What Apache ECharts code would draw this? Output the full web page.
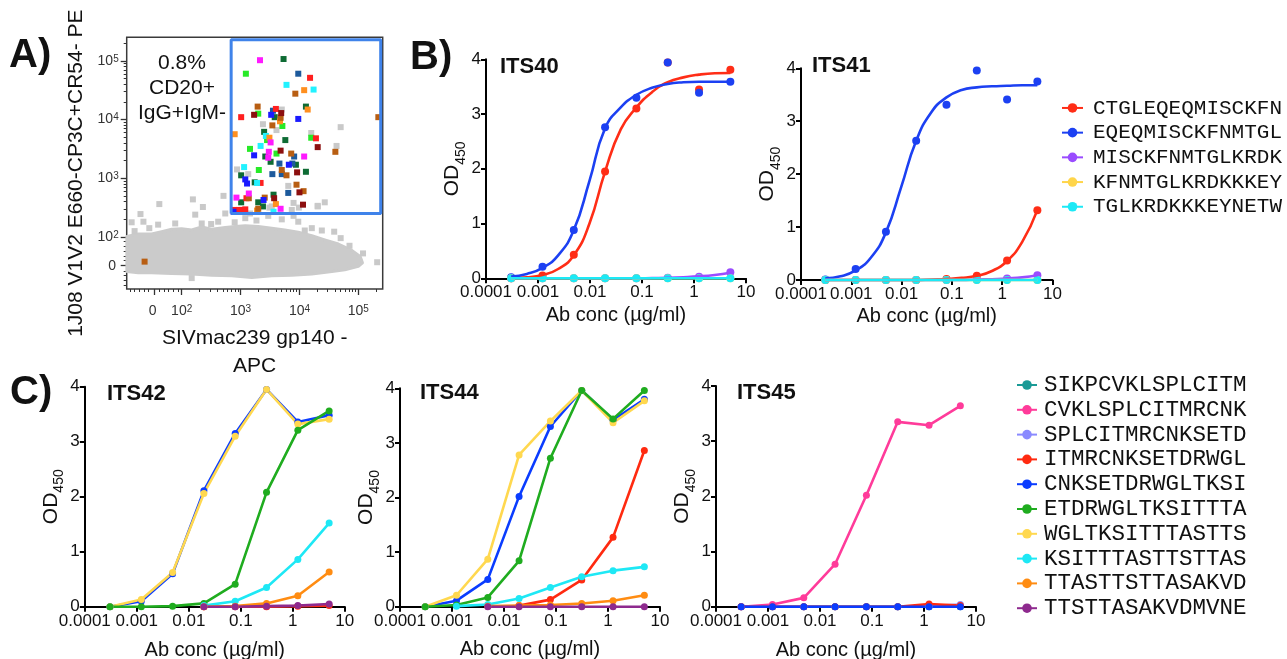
<!DOCTYPE html>
<html><head><meta charset="utf-8">
<script src="https://cdn.jsdelivr.net/npm/echarts@6/dist/echarts.min.js"></script>
<style>html,body{margin:0;padding:0;background:#fff}#c{width:1287px;height:659px}</style>
</head><body><div id="c"></div>
<script>
const SANS = '"Liberation Sans", Arial, Helvetica, sans-serif';
const MONO = '"Liberation Mono", "Courier New", monospace';
const INK = '#111';

// ===================== Panel A: flow plot (values in logicle decades) =====================
const flowXTickVals = [1.53, 2, 3, 4, 5];
const flowYTickVals = [1.51, 2, 3, 4, 5];
const flowTickLabels = ['{n|0}{s| }', '{n|10}{s|2}', '{n|10}{s|3}', '{n|10}{s|4}', '{n|10}{s|5}'];
const flowXMinor = [1.12, 1.2, 1.28, 1.36, 1.44, 1.62, 1.7, 1.78, 1.86, 1.94,
  2.301, 2.477, 2.602, 2.699, 2.778, 2.845, 2.903, 2.954,
  3.301, 3.477, 3.602, 3.699, 3.778, 3.845, 3.903, 3.954,
  4.301, 4.477, 4.602, 4.699, 4.778, 4.845, 4.903, 4.954, 5.301];
const flowYMinor = [1.18, 1.26, 1.34, 1.42, 1.6, 1.68, 1.76, 1.84, 1.92,
  2.301, 2.477, 2.602, 2.699, 2.778, 2.845, 2.903, 2.954,
  3.301, 3.477, 3.602, 3.699, 3.778, 3.845, 3.903, 3.954,
  4.301, 4.477, 4.602, 4.699, 4.778, 4.845, 4.903, 4.954, 5.301];
// outline of the dense grey population
const cloudX = [1.07, 1.26, 1.49, 1.66, 1.83, 2.00, 2.17, 2.34, 2.51, 2.74, 2.91, 3.08, 3.30, 3.53, 3.75, 3.98, 4.21, 4.43, 4.66, 4.89, 5.03, 5.07,
  5.00, 4.77, 4.55, 4.21, 3.87, 3.53, 3.19, 2.85, 2.51, 2.17, 1.83, 1.49, 1.26, 1.07];
const cloudY = [2.01, 2.05, 2.05, 2.09, 2.13, 2.14, 2.12, 2.17, 2.13, 2.16, 2.18, 2.19, 2.18, 2.15, 2.12, 2.08, 2.02, 1.95, 1.88, 1.77, 1.67, 1.56,
  1.50, 1.44, 1.41, 1.37, 1.35, 1.34, 1.31, 1.34, 1.35, 1.37, 1.38, 1.39, 1.39, 1.41];
const greyEvents = [[3.70,4.17],[3.38,3.92],[3.61,3.82],[4.20,3.77],[4.70,3.87],[4.63,3.55],[2.94,3.15],[3.81,2.87],[3.90,2.58],[4.31,2.52],[4.43,2.59],[3.99,2.50],[3.49,2.50],[3.13,3.07],
  [1.62,2.56],[2.19,2.64],[2.36,2.51],[2.71,2.70],[1.30,2.39],[1.15,2.25],[1.35,2.26],[2.23,2.38],[4.31,2.53],[4.09,2.11],[4.38,2.11],[4.59,2.09],[5.08,1.72],[5.32,1.57],[2.17,1.30],
  [3.08,2.32],[3.27,2.28],[3.47,2.36],[3.70,2.30],[3.90,2.36],[3.98,2.26],[1.89,2.23],[1.60,2.21],[2.62,2.26],[2.34,2.23],[4.21,2.15],[2.74,2.40],[3.53,2.52],[3.87,2.46],[3.16,2.40],
  [2.90,2.25],[2.50,2.22],[4.70,1.98],[4.85,1.85],[1.20,2.10],[1.45,2.15]];
const gateX = [2.84, 5.38];
const gateY = [2.40, 5.36];
const evMagenta = [[3.33,5.01],[3.51,3.61],[3.48,3.45],[3.47,3.35],[4.08,3.37],[2.93,2.67],[3.14,2.74],[3.68,2.48]];
const evDarkGreen = [[3.73,5.03],[4.11,4.22],[3.58,4.04],[3.40,3.79],[3.76,3.65],[3.42,3.37],[3.51,3.28],[3.94,3.23],[3.01,3.05],[4.11,3.11],[3.24,2.93],[3.01,2.59],[3.56,2.72],[3.30,2.59],[3.38,2.52]];
const evGreen = [[3.09,4.78],[3.30,4.10],[3.71,3.89],[3.45,3.65],[4.20,3.69],[3.16,3.50],[3.61,3.42],[3.31,3.14]];
const evSteel = [[3.98,4.78],[3.55,4.15],[3.91,3.37],[3.66,3.25],[3.88,3.25],[3.54,3.07],[3.70,3.07],[3.81,2.75]];
const evRed = [[4.18,4.71],[3.60,4.18],[3.01,4.04],[4.28,3.68],[3.34,2.92],[3.10,2.66],[2.90,2.46],[3.02,2.46],[3.08,2.47],[2.97,2.46]];
const evCyan = [[3.78,4.59],[4.24,4.51],[3.43,3.72],[3.34,3.55],[3.06,3.19],[3.28,2.92],[3.56,2.43]];
const evOrange = [[4.08,4.50],[4.14,4.17],[3.67,3.97],[2.90,3.75],[3.49,3.69],[3.60,2.56],[3.28,2.45]];
const evBrown = [[3.93,4.44],[3.29,4.22],[3.68,4.03],[3.54,3.90],[3.86,3.42],[4.61,3.45],[3.70,3.14],[3.78,3.05],[3.95,2.89],[4.07,2.78],[3.14,2.66],[3.41,2.67],[3.30,2.48],[5.34,4.04],[1.37,1.58]];
const evDarkRed = [[3.23,4.08],[3.69,4.11],[4.31,3.53],[3.68,3.47],[3.96,3.10],[4.00,2.76],[3.57,2.66],[4.06,2.55]];
const evBlue = [[3.52,4.08],[3.98,4.01],[3.23,3.39],[3.82,3.23],[3.08,2.98],[3.11,2.91],[3.39,2.63],[2.88,2.43]];

// ===================== Panels B & C: ELISA =====================
const concs = [0.000305, 0.00122, 0.00488, 0.0195, 0.078, 0.3125, 1.25, 5];
// x positions at which the fitted curves were read (two-fold steps)
const fitConcs = [0.000305, 0.00061, 0.00122, 0.00244, 0.00488, 0.00977, 0.0195, 0.039, 0.078, 0.156, 0.3125, 0.625, 1.25, 2.5, 5];

const namesB = ['CTGLEQEQMISCKFN', 'EQEQMISCKFNMTGL', 'MISCKFNMTGLKRDK', 'KFNMTGLKRDKKKEY', 'TGLKRDKKKEYNETW'];
const colorsB = ['#ff2d16', '#1c40f2', '#9a4cff', '#ffd54a', '#1ce9f6'];

const its40Fit = [
  [0.01, 0.02, 0.06, 0.17, 0.42, 1.00, 1.95, 2.72, 3.12, 3.40, 3.58, 3.67, 3.72, 3.745, 3.75],
  [0.03, 0.08, 0.19, 0.42, 0.88, 1.78, 2.74, 3.12, 3.35, 3.48, 3.55, 3.58, 3.59, 3.59, 3.59],
  [0, 0, 0, 0, 0, 0, 0, 0, 0, 0.005, 0.01, 0.02, 0.035, 0.06, 0.10],
  [0, 0, 0, 0, 0, 0, 0, 0, 0, 0, 0, 0, 0, 0, 0],
  [0, 0, 0, 0, 0, 0, 0, 0, 0, 0, 0, 0, 0, 0, 0]
];
const its40Pts = [
  [0.00, 0.05, 0.43, 1.95, 3.10, 3.94, 3.45, 3.81],
  [0.02, 0.21, 0.88, 2.76, 3.30, 3.94, 3.39, 3.59],
  [0, 0, 0, 0, 0, 0.01, 0.03, 0.11],
  [0, 0, 0, 0, 0, 0, 0, 0],
  [0, 0, 0, 0, 0, 0, 0, 0]
];
// ITS41
const its41Fit = [
  [0, 0, 0, 0, 0, 0, 0, 0.01, 0.02, 0.04, 0.08, 0.17, 0.36, 0.72, 1.32],
  [0.03, 0.07, 0.18, 0.42, 0.90, 1.75, 2.63, 3.17, 3.45, 3.59, 3.64, 3.66, 3.67, 3.68, 3.68],
  [0, 0, 0, 0, 0, 0, 0, 0, 0, 0, 0.01, 0.015, 0.03, 0.05, 0.09],
  [0, 0, 0, 0, 0, 0, 0, 0, 0, 0, 0, 0, 0, 0, 0],
  [0, 0, 0, 0, 0, 0, 0, 0, 0, 0, 0, 0, 0, 0, 0]
];
const its41Pts = [
  [0, 0, 0, 0, 0.02, 0.08, 0.37, 1.32],
  [0.01, 0.21, 0.91, 2.63, 3.31, 3.96, 3.41, 3.75],
  [0, 0, 0, 0, 0, 0.01, 0.03, 0.09],
  [0, 0, 0, 0, 0, 0, 0, 0],
  [0, 0, 0, 0, 0, 0, 0, 0]
];

const namesC = ['SIKPCVKLSPLCITM', 'CVKLSPLCITMRCNK', 'SPLCITMRCNKSETD', 'ITMRCNKSETDRWGL', 'CNKSETDRWGLTKSI',
  'ETDRWGLTKSITTTA', 'WGLTKSITTTASTTS', 'KSITTTASTTSTTAS', 'TTASTTSTTASAKVD', 'TTSTTASAKVDMVNE'];
const colorsC = ['#1a9a96', '#ff3b9a', '#8a8aff', '#ff2a10', '#0a3cff', '#1fac1f', '#ffd84f', '#1ee8f5', '#ff8c12', '#8e2a8e'];

// [legend index, values at concs] ; null = not drawn
const its42 = [
  [3, [null, null, null, 0, 0, 0, 0.01, 0.02]],
  [4, [0, 0.10, 0.60, 2.11, 3.15, 3.95, 3.36, 3.48]],
  [6, [0, 0.13, 0.62, 2.06, 3.10, 3.95, 3.32, 3.41]],
  [5, [0, 0, 0.01, 0.06, 0.41, 2.08, 3.21, 3.56]],
  [7, [null, null, null, 0.02, 0.10, 0.35, 0.86, 1.52]],
  [8, [null, null, null, 0, 0.01, 0.06, 0.20, 0.63]],
  [9, [null, null, null, 0, 0, 0.01, 0.02, 0.05]]
];
const its44 = [
  [3, [null, null, null, 0.02, 0.13, 0.49, 1.27, 2.86]],
  [4, [0, 0.11, 0.50, 2.02, 3.30, 3.96, 3.42, 3.80]],
  [6, [0, 0.21, 0.87, 2.78, 3.40, 3.96, 3.37, 3.77]],
  [5, [0, 0.03, 0.17, 0.84, 2.72, 3.96, 3.44, 3.96]],
  [7, [null, 0.01, 0.04, 0.15, 0.35, 0.55, 0.66, 0.73]],
  [8, [null, null, 0.01, 0.02, 0.03, 0.06, 0.11, 0.21]],
  [9, [null, null, 0, 0, 0, 0, 0, 0]]
];
const its45 = [
  [0, [0, 0, 0, 0, 0, 0, 0, 0]],
  [1, [0, 0.04, 0.16, 0.77, 2.02, 3.35, 3.29, 3.64]],
  [2, [0, 0, 0, 0, 0, 0, 0.01, 0.04]],
  [3, [0, 0, 0, 0, 0, 0, 0.05, 0.02]],
  [4, [0, 0, 0, 0, 0, 0, 0, 0]]
];

const odTicks = [0, 1, 2, 3, 4];

// ===================== build option =====================
const chart = echarts.init(document.getElementById('c'), null, {renderer: 'canvas'});

const gridBox = [
  {left: 126.7, top: 37.3, width: 256, height: 251.7},   // A
  {left: 486, top: 59.3, width: 260, height: 219},       // ITS40
  {left: 801, top: 68.3, width: 251.5, height: 211.7},   // ITS41
  {left: 84.8, top: 386.7, width: 260, height: 220},     // ITS42
  {left: 400, top: 388.3, width: 260, height: 218.4},    // ITS44
  {left: 716, top: 386, width: 260, height: 220.7}       // ITS45
];
const grid = gridBox.map((g, i) => Object.assign({containLabel: false, outerBoundsMode: 'none'}, g,
  i === 0 ? {show: true, borderColor: '#3a3a3a', borderWidth: 1.5, backgroundColor: 'transparent'} : {}));

const flowRich = {
  n: {fontSize: 14, fontFamily: SANS, color: '#333', verticalAlign: 'bottom', lineHeight: 14},
  s: {fontSize: 10, fontFamily: SANS, color: '#333', verticalAlign: 'top', lineHeight: 10, padding: [0, 0, 6, 0]}
};
function flowFmt(ticks) {
  return v => { const i = ticks.findIndex(t => Math.abs(t - v) < 1e-6); return i >= 0 ? flowTickLabels[i] : ''; };
}
function fmtConc(v) {
  const e = Math.round(Math.log10(v));
  return e >= 0 ? String(Math.round(Math.pow(10, e))) : Math.pow(10, e).toFixed(-e);
}

const blackLine = {show: true, lineStyle: {color: '#000', width: 2}};
const xAxis = [
  {gridIndex: 0, type: 'value', min: 1.066, max: 5.414, position: 'bottom',
    axisLine: {show: false}, splitLine: {show: false},
    axisTick: {show: true, customValues: flowXTickVals, length: 6, lineStyle: {color: '#333', width: 1.3}},
    axisLabel: {customValues: flowXTickVals, formatter: flowFmt(flowXTickVals), margin: 15, rich: flowRich},
    name: 'SIVmac239 gp140 -\nAPC', nameLocation: 'middle', nameGap: 35,
    nameTextStyle: {fontFamily: SANS, fontSize: 21, lineHeight: 28, color: INK}},
  {gridIndex: 0, type: 'value', min: 1.066, max: 5.414, position: 'bottom',
    axisLine: {show: false}, splitLine: {show: false}, axisLabel: {show: false},
    axisTick: {show: true, customValues: flowXMinor, length: 3, lineStyle: {color: '#333', width: 1}}}
];
const yAxis = [
  {gridIndex: 0, type: 'value', min: 1.114, max: 5.40, position: 'left',
    axisLine: {show: false}, splitLine: {show: false},
    axisTick: {show: true, customValues: flowYTickVals, length: 6, lineStyle: {color: '#333', width: 1.3}},
    axisLabel: {customValues: flowYTickVals, formatter: flowFmt(flowYTickVals), margin: 8, rich: flowRich},
    name: '1J08 V1V2 E660-CP3C+CR54- PE', nameLocation: 'middle', nameGap: 40,
    nameTextStyle: {fontFamily: SANS, fontSize: 21, color: INK, padding: [0, 20, 0, 0]}},
  {gridIndex: 0, type: 'value', min: 1.114, max: 5.40, position: 'left',
    axisLine: {show: false}, splitLine: {show: false}, axisLabel: {show: false},
    axisTick: {show: true, customValues: flowYMinor, length: 3, lineStyle: {color: '#333', width: 1}}}
];
const odRich = {
  n: {fontSize: 21, fontFamily: SANS, color: INK, verticalAlign: 'top', lineHeight: 21},
  sub: {fontSize: 14, fontFamily: SANS, color: INK, verticalAlign: 'top', lineHeight: 14, padding: [12, 0, 0, 0]}
};
const xNameGap = [27, 26, 34, 33, 34];
const yNameGap = [18, 18, 18, 16, 16];
for (let g = 1; g <= 5; g++) {
  xAxis.push({gridIndex: g, type: 'log', logBase: 10, min: 0.0001, max: 10, position: 'bottom',
    axisLine: blackLine, splitLine: {show: false}, minorTick: {show: false},
    axisTick: {show: true, length: 5, inside: false, lineStyle: {color: '#000', width: 2}},
    axisLabel: {formatter: fmtConc, fontFamily: SANS, fontSize: 17, color: INK, margin: 6},
    name: 'Ab conc (µg/ml)', nameLocation: 'middle', nameGap: xNameGap[g - 1],
    nameTextStyle: {fontFamily: SANS, fontSize: 20, color: INK}});
  yAxis.push({gridIndex: g, type: 'value', min: odTicks[0], max: odTicks[odTicks.length - 1], interval: 1, position: 'left',
    axisLine: blackLine, splitLine: {show: false},
    axisTick: {show: true, length: 5, inside: false, lineStyle: {color: '#000', width: 2}},
    axisLabel: {fontFamily: SANS, fontSize: 17, color: INK, margin: 5},
    name: '{n|OD}{sub|450}', nameLocation: 'middle', nameGap: yNameGap[g - 1],
    nameTextStyle: {fontFamily: SANS, fontSize: 21, color: INK, rich: odRich}});
}

const series = [];
// --- Panel A
series.push({type: 'custom', xAxisIndex: 0, yAxisIndex: 0, silent: true, z: 1,
  data: cloudX.map((x, i) => [x, cloudY[i]]),
  renderItem: (params, api) => {
    if (params.dataIndex !== 0) return null;
    const pts = cloudX.map((x, i) => api.coord([x, cloudY[i]]));
    return {type: 'polygon', shape: {points: pts}, style: {fill: '#cbcbcb', stroke: '#cbcbcb', lineWidth: 3, lineJoin: 'round'}};
  }});
series.push({type: 'scatter', xAxisIndex: 0, yAxisIndex: 0, silent: true, symbol: 'rect', symbolSize: 6,
  itemStyle: {color: '#c9c9c9', opacity: 1}, data: greyEvents, z: 2});
const evGroups = [[evDarkGreen, '#0e6b34'], [evGreen, '#27ea27'], [evSteel, '#1d5a9c'], [evRed, '#ff1f1f'], [evCyan, '#22f2ff'],
  [evOrange, '#ff8f1f'], [evBrown, '#b85e12'], [evDarkRed, '#8c0f0f'], [evBlue, '#1a1aff'], [evMagenta, '#ff1aff']];
evGroups.forEach(([d, c]) => series.push({type: 'scatter', xAxisIndex: 0, yAxisIndex: 0, silent: true, symbol: 'rect',
  symbolSize: 6, itemStyle: {color: c, opacity: 1}, data: d, z: 3}));
series.push({type: 'line', xAxisIndex: 0, yAxisIndex: 0, silent: true, symbol: 'none', showSymbol: false, z: 4,
  lineStyle: {color: '#3f83ea', width: 3},
  data: [[gateX[0], gateY[0]], [gateX[1], gateY[0]], [gateX[1], gateY[1]], [gateX[0], gateY[1]], [gateX[0], gateY[0]]]});

// --- Panel B fitted curves first (legend icons), then measured points
function addFits(ax, fits) {
  fits.forEach((vals, i) => series.push({name: namesB[i], type: 'line', xAxisIndex: ax, yAxisIndex: ax,
    data: fitConcs.map((c, j) => [c, vals[j]]), smooth: 0.5,
    symbol: 'circle', symbolSize: 8, showSymbol: false, clip: false,
    lineStyle: {color: colorsB[i], width: 2.6}, itemStyle: {color: colorsB[i], opacity: 1}}));
}
function addDots(ax, pts) {
  pts.forEach((vals, i) => series.push({name: namesB[i], type: 'scatter', xAxisIndex: ax, yAxisIndex: ax,
    data: concs.map((c, j) => [c, vals[j]]), symbol: 'circle', symbolSize: 8, clip: false,
    itemStyle: {color: colorsB[i], opacity: 1}}));
}
addFits(2, its40Fit);
addFits(3, its41Fit);
addDots(2, its40Pts);
addDots(3, its41Pts);

// --- Panel C
function addC(ax, list) {
  list.forEach(([k, vals]) => series.push({name: namesC[k], type: 'line', xAxisIndex: ax, yAxisIndex: ax,
    data: concs.map((c, j) => vals[j] == null ? null : [c, vals[j]]).filter(Boolean),
    symbol: 'circle', symbolSize: 7, showSymbol: true, clip: false,
    lineStyle: {color: colorsC[k], width: 2.6}, itemStyle: {color: colorsC[k], opacity: 1}}));
}
addC(4, its42);
addC(5, its44);
addC(6, its45);

function txt(x, y, text, size, weight, align) {
  return {type: 'text', x: x, y: y, silent: true,
    style: {text: text, fontFamily: SANS, fontSize: size, fontWeight: weight || 'normal', fill: INK,
      align: align || 'left', verticalAlign: 'middle', textAlign: align || 'left', textVerticalAlign: 'middle'}};
}
const graphicEls = [
  txt(9, 56, 'A)', 40, 'bold'),
  txt(410, 58, 'B)', 40, 'bold'),
  txt(10, 393, 'C)', 40, 'bold'),
  txt(500, 67, 'ITS40', 22, 'bold'),
  txt(812, 66, 'ITS41', 22, 'bold'),
  txt(107, 394, 'ITS42', 22, 'bold'),
  txt(420, 393, 'ITS44', 22, 'bold'),
  txt(737, 393, 'ITS45', 22, 'bold'),
  {type: 'text', x: 182, y: 88, silent: true,
    style: {text: '0.8%\nCD20+\nIgG+IgM-', fontFamily: SANS, fontSize: 21, lineHeight: 25, fill: INK,
      align: 'center', verticalAlign: 'middle', textAlign: 'center', textVerticalAlign: 'middle'}}
];

const option = {
  animation: false,
  backgroundColor: '#fff',
  textStyle: {fontFamily: SANS},
  grid: grid,
  xAxis: xAxis,
  yAxis: yAxis,
  legend: [
    {orient: 'vertical', left: 1061, top: 95.6, padding: 0, itemGap: 0, itemWidth: 21, itemHeight: 12,
      data: namesB, selectedMode: false,
      textStyle: {fontFamily: MONO, fontSize: 21, color: INK, lineHeight: 24.7, padding: [0, 0, 0, 5]}},
    {orient: 'vertical', left: 1016, top: 372.6, padding: 0, itemGap: 0, itemWidth: 20, itemHeight: 12,
      data: namesC, selectedMode: false,
      textStyle: {fontFamily: MONO, fontSize: 22.5, color: INK, lineHeight: 24.8, padding: [0, 0, 0, 2]}}
  ],
  graphic: {elements: graphicEls},
  series: series
};
chart.setOption(option);
</script></body></html>
